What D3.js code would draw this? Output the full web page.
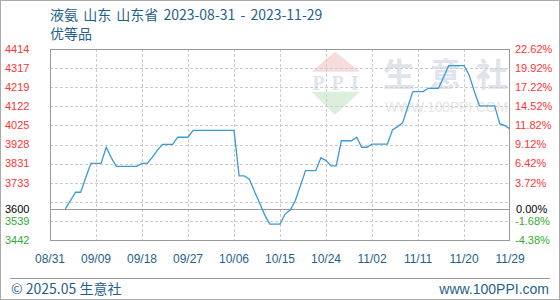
<!DOCTYPE html>
<html>
<head>
<meta charset="utf-8">
<script src="https://cdn.jsdelivr.net/npm/d3@7"></script>
<style>
  html, body { margin: 0; padding: 0; background: #fff; }
  svg { display: block; }
</style>
</head>
<body>
<svg id="chart" width="560" height="300"></svg>
<script>
// ---- data ----
const titleText = "液氨 山东 山东省 2023-08-31 - 2023-11-29";
const subTitle = "优等品";
const dates = [
  "2023-09-03","2023-09-04","2023-09-05","2023-09-06","2023-09-07","2023-09-08","2023-09-09","2023-09-10",
  "2023-09-11","2023-09-12","2023-09-13","2023-09-14","2023-09-15","2023-09-16","2023-09-17","2023-09-18",
  "2023-09-19","2023-09-20","2023-09-21","2023-09-22","2023-09-23","2023-09-24","2023-09-25","2023-09-26",
  "2023-09-27","2023-09-28","2023-09-29","2023-09-30","2023-10-01","2023-10-02","2023-10-03","2023-10-04",
  "2023-10-05","2023-10-06","2023-10-07","2023-10-08","2023-10-09","2023-10-10","2023-10-11","2023-10-12",
  "2023-10-13","2023-10-14","2023-10-15","2023-10-16","2023-10-17","2023-10-18","2023-10-19","2023-10-20",
  "2023-10-21","2023-10-22","2023-10-23","2023-10-24","2023-10-25","2023-10-26","2023-10-27","2023-10-28",
  "2023-10-29","2023-10-30","2023-10-31","2023-11-01","2023-11-02","2023-11-03","2023-11-04","2023-11-05",
  "2023-11-06","2023-11-07","2023-11-08","2023-11-09","2023-11-10","2023-11-11","2023-11-12","2023-11-13",
  "2023-11-14","2023-11-15","2023-11-16","2023-11-17","2023-11-18","2023-11-19","2023-11-20","2023-11-21",
  "2023-11-22","2023-11-23","2023-11-24","2023-11-25","2023-11-26","2023-11-27","2023-11-28","2023-11-29"
];
const prices = [
  3600,3642,3685,3685,3760,3832,3832,3832,
  3914,3860,3817,3817,3817,3817,3817,3832,
  3832,3862,3898,3929,3929,3929,3965,3965,
  3965,4000,4000,4000,4000,4000,4000,4000,
  4000,4000,3768,3768,3751,3690,3630,3570,
  3523,3523,3523,3574,3594,3643,3719,3795,
  3795,3795,3861,3846,3819,3819,3947,3947,
  3947,3965,3914,3914,3930,3930,3930,3930,
  4002,4019,4039,4120,4197,4197,4197,4214,
  4214,4214,4270,4329,4329,4329,4329,4282,
  4200,4125,4125,4125,4125,4034,4024,4007
];
const baseValue = 3600;
const yTickValues = [3442,3539.2,3636.4,3733.6,3830.8,3928,4025.2,4122.4,4219.6,4316.8,4414];
const yTickLabels = ["3442","3539","","3733","3831","3928","4025","4122","4219","4317","4414"];
const pctLabels   = ["-4.38%","-1.68%","","3.72%","6.42%","9.12%","11.82%","14.52%","17.22%","19.92%","22.62%"];
const xTickDates = ["2023-08-31","2023-09-09","2023-09-18","2023-09-27","2023-10-06","2023-10-15","2023-10-24","2023-11-02","2023-11-11","2023-11-20","2023-11-29"];
const xDomain = ["2023-08-31","2023-11-29"];
const footerLeft = "© 2025.05 生意社";
const footerRight = "www.100PPI.com";

// ---- layout ----
const svg = d3.select("#chart");
const W = 560, H = 300;
const L = 50, R = 510, T = 49, B = 240;
const parse = d3.timeParse("%Y-%m-%d");
const x = d3.scaleTime().domain(xDomain.map(parse)).range([L, R]);
const y = d3.scaleLinear().domain([3442, 4414]).range([B, T]);

const blue = "#1f5f8b";
const red = "#ff3333";
const green = "#33aa33";

// outer frame
svg.append("rect").attr("x",0.5).attr("y",0.5).attr("width",W-1).attr("height",H-1)
  .attr("fill","#fff").attr("stroke","#aaa");

// title
svg.append("text").attr("x",50).attr("y",20).attr("fill",blue).attr("word-spacing",2)
  .attr("font-family","'Noto Sans CJK SC', sans-serif").attr("font-size",14).text(titleText);
svg.append("text").attr("x",50).attr("y",39).attr("fill",blue)
  .attr("font-family","'Noto Sans CJK SC', sans-serif").attr("font-size",14).text(subTitle);

// watermark
const wm = svg.append("g");
wm.append("path").attr("d",`M311.7,71.7 L335,51.7 L360,71.7 Z`).attr("fill","#f8dcdc");
wm.append("path").attr("d",`M311.7,91.7 L360,91.7 L335,115 Z`).attr("fill","#dcefdc");
wm.append("text").attr("x",335.5).attr("y",90).attr("text-anchor","middle")
  .attr("font-family","'Liberation Serif', serif").attr("font-weight","bold").attr("font-size",20)
  .attr("fill","#dfe4ee").attr("textLength",46).text("PPI");
["生","意","社"].forEach((c,i)=>{
  wm.append("text").attr("x",399+i*46.5).attr("y",86).attr("text-anchor","middle")
    .attr("font-family","'Noto Sans CJK SC', sans-serif").attr("font-weight","bold").attr("font-size",32)
    .attr("fill","#dfe3ec").text(c);
});
wm.append("text").attr("x",385).attr("y",112).attr("font-family","'Liberation Sans', Arial, sans-serif")
  .attr("font-size",14).attr("fill","#e6e6e6").attr("textLength",123).text("WWW.100PPI.COM");

// grid horizontal
const gridG = svg.append("g");
yTickValues.forEach(v=>{
  gridG.append("line").attr("x1",L).attr("x2",R).attr("y1",Math.round(y(v))+0.5).attr("y2",Math.round(y(v))+0.5)
    .attr("stroke","#cccccc").attr("stroke-dasharray","3,2");
});
// grid vertical
xTickDates.slice(1,-1).forEach(d=>{
  const xx = Math.round(x(parse(d)))+0.5;
  gridG.append("line").attr("x1",xx).attr("x2",xx).attr("y1",T).attr("y2",B)
    .attr("stroke","#cccccc").attr("stroke-dasharray","3,2");
});
// base line
gridG.append("line").attr("x1",L).attr("x2",R).attr("y1",Math.round(y(baseValue))+0.5).attr("y2",Math.round(y(baseValue))+0.5)
  .attr("stroke","#999").attr("stroke-width",1);

// plot border
svg.append("rect").attr("x",L+0.5).attr("y",T+0.5).attr("width",R-L-1).attr("height",B-T)
  .attr("fill","none").attr("stroke","#999");

// data line
const series = dates.map((d,i)=>({d:parse(d), v:prices[i]}));
svg.append("path").datum(series)
  .attr("d", d3.line().x(p=>x(p.d)).y(p=>y(p.v)))
  .attr("fill","none").attr("stroke","#3a9ad9").attr("stroke-width",1.3);

// left labels
const lab = svg.append("g").attr("font-family","'Liberation Sans', Arial, sans-serif").attr("font-size",11);
yTickValues.forEach((v,i)=>{
  if (!yTickLabels[i]) return;
  lab.append("text").attr("x",5).attr("y",y(v)).attr("dy","0.35em")
    .attr("fill", v < baseValue ? green : red).text(yTickLabels[i]);
});
lab.append("text").attr("x",5).attr("y",y(baseValue)).attr("dy","0.35em").attr("fill","#000").text(String(baseValue));
// right labels
yTickValues.forEach((v,i)=>{
  if (!pctLabels[i]) return;
  lab.append("text").attr("x",515).attr("y",y(v)).attr("dy","0.35em")
    .attr("fill", v < baseValue ? green : red).text(pctLabels[i]);
});
lab.append("text").attr("x",516).attr("y",y(baseValue)).attr("dy","0.35em").attr("fill","#000").text("0.00%");

// x axis labels
const fmt = d3.timeFormat("%m/%d");
const xg = svg.append("g").attr("font-family","'Liberation Sans', Arial, sans-serif").attr("font-size",12).attr("fill",blue);
xTickDates.forEach(d=>{
  xg.append("text").attr("x",x(parse(d))).attr("y",263).attr("text-anchor","middle").text(fmt(parse(d)));
});

// footer
svg.append("line").attr("x1",10).attr("x2",550).attr("y1",278.5).attr("y2",278.5).attr("stroke","#999");
svg.append("text").attr("x",11).attr("y",294).attr("fill",blue)
  .attr("font-family","'Noto Sans CJK SC', 'Liberation Sans', sans-serif").attr("font-size",14).text(footerLeft);
svg.append("text").attr("x",549).attr("y",294).attr("text-anchor","end").attr("fill",blue)
  .attr("font-family","'Liberation Sans', Arial, sans-serif").attr("font-size",14).text(footerRight);
</script>
</body>
</html>
